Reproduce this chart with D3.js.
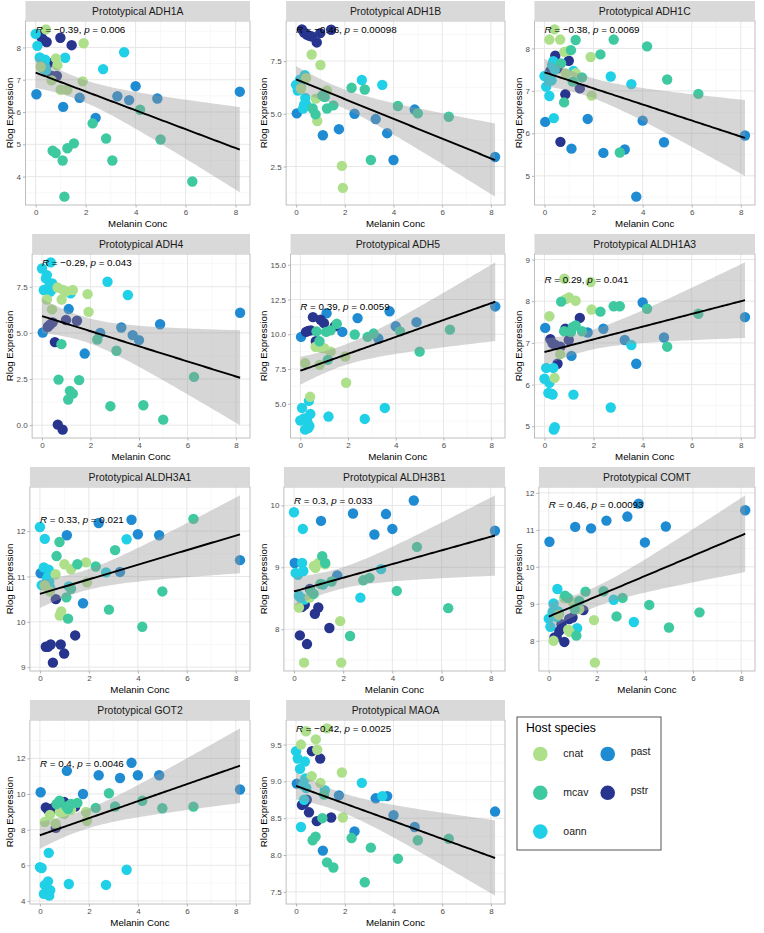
<!DOCTYPE html>
<meta charset="utf-8">

<!-- Load d3.js -->
<script src="https://d3js.org/d3.v7.min.js"></script>
<style>
  body { margin: 0; background: #fff; }
  text { font-family: "Liberation Sans", Arial, Helvetica, sans-serif; }
</style>

<div id="my_dataviz"></div>

<script>
// samples ordered by host: past, pstr, oann, cnat, mcav
const host = [
  "past","past","past","past","past","past","past","past","past",
  "pstr","pstr","pstr","pstr","pstr","pstr","pstr","pstr",
  "oann","oann","oann","oann","oann","oann","oann","oann","oann","oann","oann","oann",
  "cnat","cnat","cnat","cnat","cnat","cnat","cnat","cnat","cnat",
  "mcav","mcav","mcav","mcav","mcav","mcav","mcav","mcav","mcav","mcav","mcav","mcav"
];
const melanin = [
  0.03, 1.1, 1.76, 2.4, 3.27, 3.74, 4.0, 4.87, 8.17,
  0.24, 0.33, 0.44, 0.53, 0.65, 0.85, 0.99, 1.44,
  0.0, 0.07, 0.16, 0.2, 0.29, 0.33, 0.36, 0.38, 0.42, 1.18, 2.7, 3.54,
  0.2, 0.41, 0.64, 0.81, 0.87, 1.0, 1.27, 1.88, 1.92,
  0.68, 0.8, 1.08, 1.15, 1.27, 1.53, 2.28, 2.82, 3.07, 4.18, 5.0, 6.27
];

// rlog expression per gene (same sample order)
const adh1a = [
  6.55, 6.16, 6.44, 5.82, 6.49, 6.37, 6.8, 6.42, 6.63,
  8.3, 8.22, 8.17, 7.52, 7.12, 7.12, 8.3, 8.07,
  8.42, 8.05, 7.69, 7.66, 7.35, 7.5, 7.45, 7.62, 7.3, 7.68, 7.33, 7.85,
  7.4, 8.56, 6.98, 7.66, 7.45, 6.69, 6.69, 6.95, 8.13,
  4.8, 4.73, 4.5, 3.38, 4.88, 5.03, 5.65, 5.18, 4.5, 6.07, 5.15, 3.85
];
const adh1b = [
  5.02, 3.98, 4.27, 5.0, 4.75, 4.08, 2.81, 5.2, 2.95,
  9.0, 8.85, 8.75, 8.7, 8.66, 8.38, 8.82, 8.98,
  6.37, 6.1, 6.62, 6.25, 5.25, 5.43, 6.83, 5.75, 5.43, 5.8, 6.6, 6.37,
  6.2, 6.69, 7.81, 5.72, 4.66, 7.31, 6.1, 2.53, 1.49,
  5.25, 4.97, 5.87, 5.8, 5.25, 5.4, 6.23, 6.15, 2.81, 5.37, 5.02, 4.86
];
const adh1c = [
  6.27, 5.64, 6.34, 5.54, 5.62, 4.51, 6.3, 5.79, 5.95,
  7.47, 7.62, 7.83, 7.53, 5.8, 6.92, 7.71, 7.06,
  7.35, 7.1, 7.28, 6.88, 7.25, 7.6, 7.7, 6.36, 7.5, 7.47, 7.34, 7.16,
  8.21, 8.45, 8.21, 7.92, 7.41, 7.95, 7.42, 7.8, 6.89,
  7.65, 6.73, 7.96, 7.22, 8.2, 7.32, 7.86, 8.21, 5.55, 8.05, 7.27, 6.93
];
const adh4 = [
  5.02, 6.29, 3.88, 5.0, 5.29, 4.88, 4.61, 5.47, 6.09,
  5.33, 5.45, 5.57, 4.5, 0.03, -0.24, 5.7, 5.66,
  8.49, 7.32, 7.95, 8.13, 7.5, 7.23, 8.82, 7.3, 7.68, 7.14, 7.77, 7.05,
  6.81, 6.27, 7.46, 6.81, 7.32, 7.25, 7.32, 7.1, 6.14,
  2.47, 4.39, 1.39, 1.86, 1.71, 2.44, 4.64, 1.03, 4.03, 1.08, 0.3, 2.62
];
const adh5 = [
  9.81, 11.51, 10.17, 11.16, 9.69, 11.65, 10.57, 10.87, 12.0,
  10.17, 10.24, 10.28, 11.23, 9.5, 11.04, 10.8, 10.57,
  3.8, 4.7, 3.95, 3.14, 3.75, 3.25, 5.21, 3.4, 4.27, 4.08, 3.91, 4.7,
  7.92, 5.5, 9.1, 7.8, 9.03, 8.99, 8.75, 8.4, 6.51,
  10.21, 9.5, 10.17, 8.16, 10.28, 10.75, 9.98, 9.81, 10.05, 10.21, 8.75, 10.33
];
const aldh1a3 = [
  7.36, 6.69, 7.25, 7.34, 7.07, 6.5, 7.97, 7.13, 7.62,
  7.09, 6.99, 6.95, 6.5, 6.91, 7.34, 7.07, 7.6,
  6.14, 6.4, 5.8, 6.04, 5.78, 5.76, 6.4, 4.92, 4.98, 5.76, 5.45, 6.95,
  7.64, 6.16, 6.73, 8.54, 8.05, 8.09, 8.01, 8.46, 7.8,
  7.99, 7.28, 7.26, 7.38, 7.42, 7.28, 7.75, 7.88, 7.88, 7.82, 6.91, 7.7
];
const aldh3a1 = [
  11.07, 11.91, 10.41, 12.18, 11.1, 12.25, 11.93, 11.91, 11.36,
  9.45, 9.45, 9.5, 9.1, 10.5, 9.5, 9.3, 9.7,
  12.09, 10.81, 11.2, 11.83, 10.95, 11.0, 11.15, 10.89, 10.75, 10.78, 11.09, 11.82,
  10.8, 10.67, 11.05, 10.14, 10.23, 11.27, 11.16, 11.31, 10.87,
  11.45, 11.76, 10.54, 10.07, 10.73, 11.27, 11.22, 10.27, 11.58, 9.89, 10.67, 12.27
];
const aldh3b1 = [
  9.07, 9.75, 8.87, 9.87, 9.53, 9.86, 9.62, 10.08, 9.59,
  7.9, 8.36, 8.4, 7.76, 8.65, 8.25, 8.35, 8.02,
  9.89, 8.91, 8.88, 8.54, 8.5, 9.07, 9.62, 8.94, 8.48, 8.72, 8.51, 8.97,
  8.35, 7.46, 8.51, 9.02, 8.99, 9.07, 9.05, 8.13, 7.46,
  8.62, 8.57, 8.73, 9.18, 9.07, 8.77, 7.89, 8.79, 8.83, 8.62, 9.33, 8.34
];
const comt = [
  10.68, 11.08, 11.04, 11.25, 11.36, 11.71, 10.66, 11.09, 11.53,
  8.09, 8.1, 8.27, 8.45, 7.97, 8.59, 8.63, 8.83,
  8.6, 8.38, 8.78, 9.01, 8.72, 8.65, 9.4, 8.8, 8.74, 8.34, 9.11, 8.51,
  8.0, 8.7, 9.16, 8.3, 8.24, 9.04, 8.86, 8.56, 7.41,
  9.22, 9.16, 8.86, 8.14, 9.08, 9.33, 9.34, 8.66, 9.16, 8.97, 8.36, 8.77
];
const got2 = [
  10.1, 11.3, 10.0, 11.05, 10.9, 11.75, 11.05, 11.05, 10.25,
  9.25, 9.12, 9.07, 9.2, 8.1, 9.3, 9.56, 9.3,
  5.9, 5.85, 4.4, 4.9, 4.4, 5.1, 6.7, 4.3, 4.6, 4.95, 4.9, 5.75,
  8.43, 8.83, 8.34, 9.0, 8.95, 8.89, 9.12, 9.0, 8.5,
  9.44, 9.62, 9.3, 9.16, 9.44, 9.5, 9.22, 10.04, 9.3, 9.62, 9.2, 9.29
];
const maoa = [
  8.97, 8.06, 8.81, 8.32, 8.77, 8.8, 8.54, 8.38, 8.59,
  8.68, 8.7, 8.75, 8.58, 9.41, 8.46, 9.31, 8.51,
  9.41, 9.31, 9.17, 8.38, 8.95, 8.75, 9.27, 9.04, 8.91, 8.88, 8.98, 8.8,
  9.5, 9.68, 9.07, 9.57, 9.43, 8.98, 9.72, 9.12, 8.51,
  8.2, 8.25, 8.5, 8.82, 7.9, 7.83, 8.23, 7.63, 8.1, 7.95, 8.2, 8.22
];

const genes = ["ADH1A", "ADH1B", "ADH1C", "ADH4", "ADH5", "ALDH1A3",
               "ALDH3A1", "ALDH3B1", "COMT", "GOT2", "MAOA"];
const expr = [adh1a, adh1b, adh1c, adh4, adh5, aldh1a3, aldh3a1, aldh3b1, comt, got2, maoa];
const corR = ["\u22120.39", "\u22120.46", "\u22120.38", "\u22120.29", "0.39", "0.29",
              "0.33", "0.3", "0.46", "0.4", "\u22120.42"];
const corP = ["0.006", "0.00098", "0.0069", "0.043", "0.0059", "0.041",
              "0.021", "0.033", "0.00093", "0.0046", "0.0025"];
const yTicks = [
  [4, 5, 6, 7, 8], [2.5, 5, 7.5], [5, 6, 7, 8], [0, 2.5, 5, 7.5],
  [2.5, 5, 7.5, 10, 12.5, 15], [5, 6, 7, 8, 9], [9, 10, 11, 12], [8, 9, 10],
  [8, 9, 10, 11, 12], [4, 6, 8, 10, 12], [7.5, 8, 8.5, 9, 9.5]
];
const xTicks = [0, 2, 4, 6, 8];

const hosts = ["cnat", "mcav", "oann", "past", "pstr"];
const hostColors = ["#aee08c", "#3ec9a0", "#20d0e6", "#1e8bd2", "#27358f"];
const color = d3.scaleOrdinal().domain(hosts).range(hostColors);

// layout
const W = 764, H = 933;
const titleX = [9, 263, 518];       // centre of y axis title per column
const colRight = [250, 505, 755];
const stripH = 20, panelH = 184, rowStep = 233;
const tCrit = 2.0106;               // t(0.975, df = 48)

let svg = d3.select("#my_dataviz")
  .append("svg")
    .attr("width", W)
    .attr("height", H);

// linear model + 95% confidence band, like geom_smooth(method = "lm")
function lmFit(pts) {
  let n = pts.length;
  let mx = d3.mean(pts, d => d.x), my = d3.mean(pts, d => d.y);
  let sxx = d3.sum(pts, d => (d.x - mx) ** 2);
  let sxy = d3.sum(pts, d => (d.x - mx) * (d.y - my));
  let b = sxy / sxx, a = my - b * mx;
  let sse = d3.sum(pts, d => (d.y - a - b * d.x) ** 2);
  let s = Math.sqrt(sse / (n - 2));
  let [x0, x1] = d3.extent(pts, d => d.x);
  return d3.range(81).map(k => {
    let x = x0 + (x1 - x0) * k / 80;
    let fit = a + b * x;
    let se = s * Math.sqrt(1 / n + (x - mx) ** 2 / sxx);
    return {x: x, fit: fit, lo: fit - tCrit * se, hi: fit + tCrit * se};
  });
}

// measure text width
let probe = svg.append("text").attr("font-size", 8).attr("opacity", 0);
function textW(s) { probe.text(s); return probe.node().getComputedTextLength(); }

let xExt = d3.extent(melanin);
let xPad = (xExt[1] - xExt[0]) * 0.05;

genes.forEach(function(gene, i) {
  let col = i % 3, row = Math.floor(i / 3);
  let top = 1 + row * rowStep;
  let pTop = top + stripH, pBot = pTop + panelH;

  let pts = melanin.map((x, k) => ({x: x, y: expr[i][k], host: host[k]}));
  let band = lmFit(pts);

  let yLo = Math.min(d3.min(pts, d => d.y), d3.min(band, d => d.lo));
  let yHi = Math.max(d3.max(pts, d => d.y), d3.max(band, d => d.hi));
  let yPad = (yHi - yLo) * 0.05;
  let yDom = [yLo - yPad, yHi + yPad];

  let ticks = yTicks[i].filter(t => t >= yDom[0] && t <= yDom[1]);
  let step = yTicks[i][1] - yTicks[i][0];
  let fmt = Number.isInteger(step) ? (d => d3.format("d")(d)) : (d => d3.format(".1f")(d));
  let labW = d3.max(ticks, t => textW(fmt(t)));
  let pLeft = titleX[col] + 7 + labW + 5;
  let pRight = colRight[col];

  let x = d3.scaleLinear().domain([xExt[0] - xPad, xExt[1] + xPad]).range([pLeft, pRight]);
  let y = d3.scaleLinear().domain(yDom).range([pBot, pTop]);

  let g = svg.append("g");

  g.append("rect")
    .attr("x", pLeft).attr("y", pTop)
    .attr("width", pRight - pLeft).attr("height", panelH)
    .attr("fill", "#fff");

  // minor grid
  let yMinor = [];
  for (let t = yTicks[i][0] - step / 2; t <= yDom[1]; t += step) {
    if (t >= yDom[0]) yMinor.push(t);
  }
  let xMinor = [1, 3, 5, 7];
  g.selectAll(".ymin").data(yMinor).enter().append("line")
    .attr("x1", pLeft).attr("x2", pRight)
    .attr("y1", d => y(d)).attr("y2", d => y(d))
    .attr("stroke", "#f3f3f3").attr("stroke-width", 0.6);
  g.selectAll(".xmin").data(xMinor).enter().append("line")
    .attr("y1", pTop).attr("y2", pBot)
    .attr("x1", d => x(d)).attr("x2", d => x(d))
    .attr("stroke", "#f3f3f3").attr("stroke-width", 0.6);
  // major grid
  g.selectAll(".ymaj").data(ticks).enter().append("line")
    .attr("x1", pLeft).attr("x2", pRight)
    .attr("y1", d => y(d)).attr("y2", d => y(d))
    .attr("stroke", "#e4e4e4").attr("stroke-width", 0.9);
  g.selectAll(".xmaj").data(xTicks).enter().append("line")
    .attr("y1", pTop).attr("y2", pBot)
    .attr("x1", d => x(d)).attr("x2", d => x(d))
    .attr("stroke", "#e4e4e4").attr("stroke-width", 0.9);

  // clip
  let clipId = "clip" + i;
  svg.append("clipPath").attr("id", clipId)
    .append("rect")
      .attr("x", pLeft).attr("y", pTop)
      .attr("width", pRight - pLeft).attr("height", panelH);
  let inner = g.append("g").attr("clip-path", "url(#" + clipId + ")");

  // points
  inner.selectAll("circle")
    .data(pts)
    .enter()
    .append("circle")
      .attr("cx", d => x(d.x))
      .attr("cy", d => y(d.y))
      .attr("r", 5.2)
      .style("fill", d => color(d.host));

  // confidence ribbon
  inner.append("path")
    .datum(band)
    .attr("d", d3.area().x(d => x(d.x)).y0(d => y(d.lo)).y1(d => y(d.hi)))
    .attr("fill", "#999999")
    .attr("fill-opacity", 0.4);

  // fit line
  inner.append("path")
    .datum(band)
    .attr("d", d3.line().x(d => x(d.x)).y(d => y(d.fit)))
    .attr("fill", "none")
    .attr("stroke", "#000")
    .attr("stroke-width", 1.9);

  // correlation label
  let lab = g.append("text")
    .attr("x", x(xExt[0]))
    .attr("y", y(d3.max(pts, d => d.y)))
    .attr("dominant-baseline", "central")
    .attr("font-size", 9.8)
    .attr("fill", "#000");
  lab.append("tspan").attr("font-style", "italic").text("R");
  lab.append("tspan").text(" = " + corR[i] + ", ");
  lab.append("tspan").attr("font-style", "italic").text("p");
  lab.append("tspan").text(" = " + corP[i]);

  // panel border
  g.append("rect")
    .attr("x", pLeft).attr("y", pTop)
    .attr("width", pRight - pLeft).attr("height", panelH)
    .attr("fill", "none")
    .attr("stroke", "#b8b8b8")
    .attr("stroke-width", 0.9);

  // strip
  g.append("rect")
    .attr("x", pLeft).attr("y", top)
    .attr("width", pRight - pLeft).attr("height", stripH)
    .attr("fill", "#d9d9d9");
  g.append("text")
    .attr("x", (pLeft + pRight) / 2)
    .attr("y", top + stripH / 2 + 0.5)
    .attr("text-anchor", "middle")
    .attr("dominant-baseline", "central")
    .attr("font-size", 10.4)
    .attr("fill", "#1a1a1a")
    .text("Prototypical " + gene);

  // axes
  let ax = g.append("g")
    .attr("transform", "translate(0," + pBot + ")")
    .call(d3.axisBottom(x).tickValues(xTicks).tickSize(2.5).tickPadding(1.5));
  let ay = g.append("g")
    .attr("transform", "translate(" + pLeft + ",0)")
    .call(d3.axisLeft(y).tickValues(ticks).tickFormat(fmt).tickSize(2.5).tickPadding(2));
  [ax, ay].forEach(a => {
    a.select(".domain").remove();
    a.selectAll(".tick line").attr("stroke", "#b3b3b3");
    a.selectAll(".tick text")
      .attr("font-size", 8)
      .attr("fill", "#4d4d4d")
      .attr("font-family", "Liberation Sans, Arial, sans-serif");
  });

  g.append("text")
    .attr("x", (pLeft + pRight) / 2)
    .attr("y", pBot + 18.5)
    .attr("text-anchor", "middle")
    .attr("dominant-baseline", "central")
    .attr("font-size", 9.7)
    .attr("fill", "#000")
    .text("Melanin Conc");
  g.append("text")
    .attr("transform", "translate(" + titleX[col] + "," + (pTop + panelH / 2) + ") rotate(-90)")
    .attr("text-anchor", "middle")
    .attr("dominant-baseline", "central")
    .attr("font-size", 9.7)
    .attr("fill", "#000")
    .text("Rlog Expression");
});
probe.remove();

// legend
let leg = svg.append("g");
leg.append("rect")
  .attr("x", 517).attr("y", 717)
  .attr("width", 144).attr("height", 133)
  .attr("fill", "#fff")
  .attr("stroke", "#555")
  .attr("stroke-width", 1);
leg.append("text")
  .attr("x", 526).attr("y", 728)
  .attr("dominant-baseline", "central")
  .attr("font-size", 12.2)
  .attr("fill", "#000")
  .text("Host species");

// column-major layout, like ggplot legend with 2 columns
let legPos = [[0, 0], [0, 1], [0, 2], [1, 0], [1, 1]];
hosts.forEach(function(h, k) {
  let cx = 540.3 + legPos[k][0] * 67.4;
  let cy = 754 + legPos[k][1] * 38.8;
  leg.append("circle")
    .attr("cx", cx).attr("cy", cy).attr("r", 7.3)
    .style("fill", color(h));
  leg.append("text")
    .attr("x", cx + 23).attr("y", cy - (legPos[k][0] === 1 ? 3 : 1))
    .attr("dominant-baseline", "central")
    .attr("font-size", 10.5)
    .attr("fill", "#1a1a1a")
    .text(h);
});
</script>
